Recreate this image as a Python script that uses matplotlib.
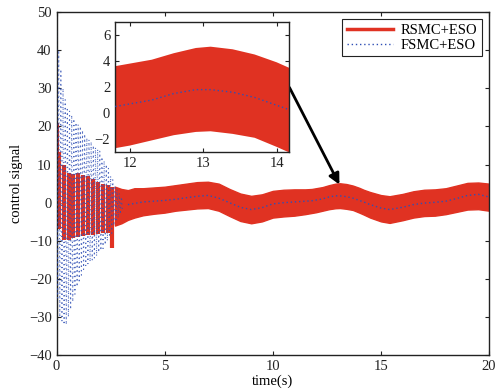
import matplotlib
matplotlib.use("Agg")
import matplotlib.pyplot as plt

plt.rcParams['font.family'] = ['Liberation Serif', 'DejaVu Serif']

RED = '#e03222'
BLUE = '#2f4fb5'

# red (RSMC+ESO): chattering bars during the transient
bar_t = [0.02, 0.12, 0.36, 0.58, 0.77, 0.99, 1.22, 1.45, 1.68, 1.91, 2.14, 2.37, 2.56]
bar_hi = [21.0, 13.3, 9.9, 7.8, 7.6, 7.8, 7.3, 6.9, 6.2, 5.5, 4.9, 4.6, 4.2]
bar_lo = [-6.0, -7.0, -9.8, -9.7, -9.3, -9.0, -8.8, -8.5, -8.5, -8.2, -8.0, -8.0, -12.0]

# red band envelope after the transient
band_t = [2.7, 3.0, 3.3, 3.6, 4.0, 4.5, 5.0, 5.5, 6.0, 6.5, 7.0, 7.5, 8.0, 8.5, 9.0,
          9.5, 10.0, 10.5, 11.0, 11.5, 11.8, 12.0, 12.3, 12.6, 12.9, 13.1, 13.4, 13.7,
          14.0, 14.2, 14.5, 15.0, 15.4, 16.0, 16.5, 17.0, 17.5, 18.0, 18.5, 19.0, 19.5, 20.0]
band_hi = [4.2, 3.6, 3.3, 3.8, 3.8, 4.0, 4.2, 4.6, 5.0, 5.4, 5.5, 5.0, 3.6, 2.4, 1.8,
           2.2, 3.1, 3.4, 3.5, 3.5, 3.6, 3.8, 4.1, 4.6, 5.0, 5.1, 4.9, 4.5,
           3.9, 3.4, 2.8, 2.0, 1.7, 2.3, 3.0, 3.4, 3.5, 3.8, 4.5, 5.2, 5.3, 5.0]
band_lo = [-6.0, -5.4, -4.5, -3.9, -3.3, -2.9, -2.6, -2.1, -1.8, -1.5, -1.4, -2.1, -3.5, -4.8, -5.4,
           -4.9, -3.9, -3.6, -3.4, -3.0, -2.7, -2.5, -2.1, -1.7, -1.45, -1.4, -1.6, -1.9,
           -2.6, -3.1, -3.9, -4.9, -5.3, -4.6, -3.9, -3.5, -3.4, -3.0, -2.4, -1.8, -1.7, -2.1]

# blue (FSMC+ESO): oscillation peaks in the transient
osc_t = [0.00, 0.05, 0.10, 0.15, 0.20, 0.25, 0.30, 0.35, 0.40, 0.45, 0.50, 0.55, 0.60,
         0.65, 0.70, 0.75, 0.80, 0.85, 0.90, 0.95, 1.00, 1.05, 1.10, 1.15, 1.20, 1.25,
         1.30, 1.35, 1.40, 1.45, 1.50, 1.55, 1.60, 1.65, 1.70, 1.75, 1.80, 1.85, 1.90,
         1.95, 2.00, 2.05, 2.10, 2.15, 2.20, 2.25, 2.30, 2.35, 2.40, 2.45, 2.50, 2.55,
         2.60, 2.65, 2.70, 2.75, 2.80, 2.85, 2.90, 2.95, 3.00, 3.05]
osc_v = [45, -25, 40, -30, 35, -31, 30, -32, 27, -32, 25, -30, 24,
         -28, 23, -26, 22, -24, 21, -22, 20.5, -21, 20, -19, 19, -17.5,
         18, -16.5, 17, -16, 16.5, -15.5, 16, -15, 15, -14.5, 14.5, -14, 14,
         -13, 13.5, -12.5, 12, -12, 11, -11, 10, -10, 9, -9, 7, -8,
         6, -6, 4.5, -5, 3.5, -4, 2.5, -3, 1.5, -2]

# blue (FSMC+ESO): smooth signal afterwards
fsmc_t = [3.3, 3.6, 4.0, 4.5, 5.0, 5.5, 6.0, 6.5, 7.0, 7.5, 8.0, 8.5, 9.0, 9.5, 10.0, 10.5,
          11.0, 11.5, 11.8, 12.0, 12.3, 12.6, 12.9, 13.1, 13.4, 13.7, 14.0, 14.2, 14.5,
          15.0, 15.4, 16.0, 16.5, 17.0, 17.5, 18.0, 18.5, 19.0, 19.5, 20.0]
fsmc_v = [-0.5, -0.2, 0.2, 0.4, 0.6, 0.9, 1.3, 1.7, 1.9, 1.2, 0.0, -1.2, -1.8, -1.3, -0.3, 0.0,
          0.2, 0.4, 0.5, 0.7, 1.0, 1.5, 1.8, 1.8, 1.6, 1.2, 0.6, 0.2, -0.5,
          -1.4, -1.8, -1.2, -0.5, -0.1, 0.1, 0.4, 1.1, 1.9, 2.2, 1.5]

DOTS = (0, (1, 2))


def draw_series(ax, lw_band=1.0):
    ax.vlines(bar_t, bar_lo, bar_hi, color=RED, linewidth=3.0, zorder=2)
    ax.fill_between(band_t, band_lo, band_hi, color=RED, linewidth=lw_band,
                    edgecolor=RED, zorder=2)
    ax.plot(osc_t, osc_v, color=BLUE, linestyle=(0, (1, 3)), linewidth=0.8,
            alpha=0.85, zorder=3)
    ax.plot(fsmc_t, fsmc_v, color=BLUE, linestyle=DOTS, linewidth=1.0, zorder=3)


def style_axes(ax):
    ax.tick_params(direction='in', top=True, right=True, labelsize=10.5,
                   length=3, width=0.8, colors='#222222')
    for sp in ax.spines.values():
        sp.set_linewidth(1.0)
        sp.set_color('#222222')


fig = plt.figure(figsize=(4.96, 3.92), dpi=100)
ax = fig.add_axes([0.114, 0.094, 0.872, 0.875])
draw_series(ax)
ax.set_xlim(0, 20)
ax.set_ylim(-40, 50)
ax.set_xticks([0, 5, 10, 15, 20])
ax.set_yticks(range(-40, 51, 10))
ax.set_yticklabels([str(v).replace('-', '\u2212') for v in range(-40, 51, 10)])
style_axes(ax)
ax.set_xlabel('time(s)', fontsize=10.5, labelpad=1)
ax.set_ylabel('control signal', fontsize=10.5, labelpad=4)

h1, = ax.plot([], [], color=RED, linewidth=2.5, label='RSMC+ESO')
h2, = ax.plot([], [], color=BLUE, linestyle=DOTS, linewidth=1.0, label='FSMC+ESO')
leg = ax.legend(handles=[h1, h2], loc='upper right', fontsize=10.5, fancybox=False,
                framealpha=1, edgecolor='#222222', borderpad=0.3, labelspacing=0.1,
                handlelength=3.2, handletextpad=0.5, borderaxespad=0.5)
leg.get_frame().set_linewidth(0.8)

ax.annotate('', xy=(13.14, 4.1), xytext=(10.71, 30.9),
            arrowprops=dict(arrowstyle='-|>', color='black', lw=2, mutation_scale=16),
            zorder=5)

axin = fig.add_axes([0.232, 0.612, 0.351, 0.332])
draw_series(axin, lw_band=0)
axin.set_xlim(11.8, 14.17)
axin.set_ylim(-3, 7)
axin.set_xticks([12, 13, 14])
axin.set_yticks([-2, 0, 2, 4, 6])
axin.set_yticklabels(['\u22122', '0', '2', '4', '6'])
style_axes(axin)

fig.savefig('out.png', dpi=100)
